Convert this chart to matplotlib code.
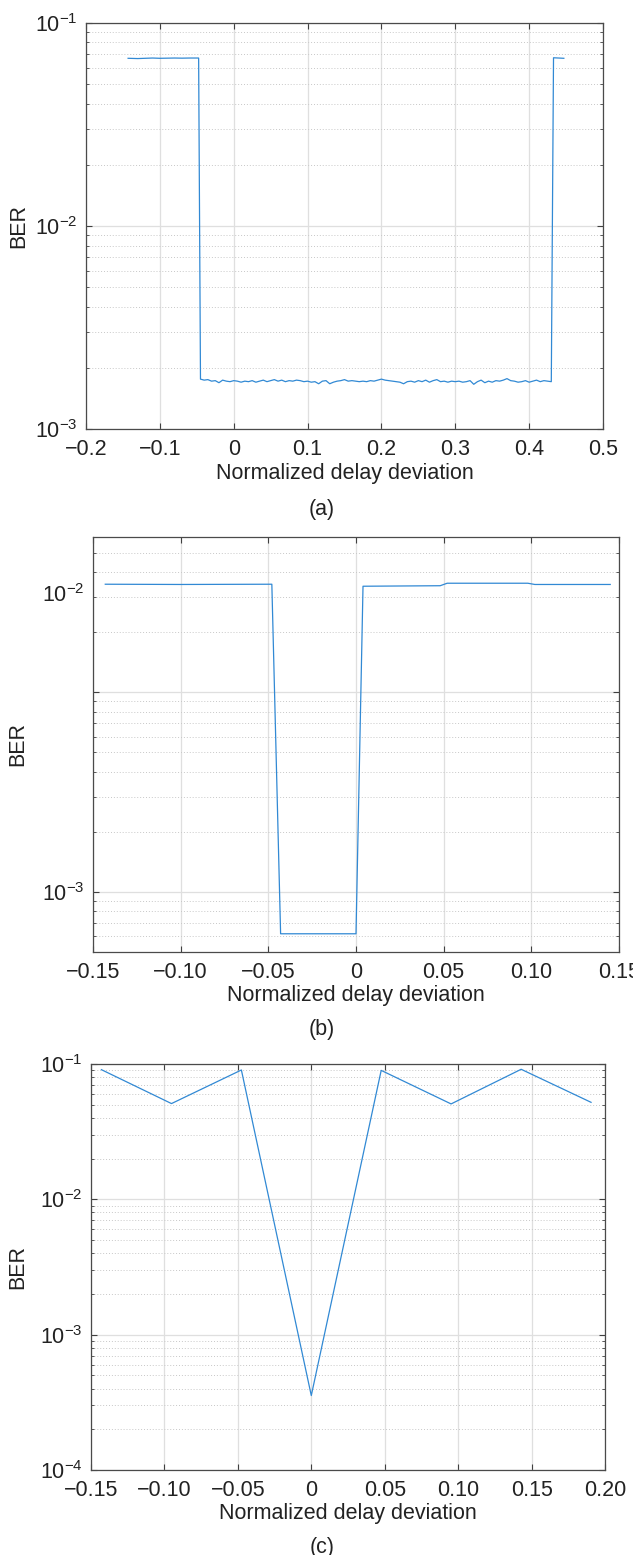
import matplotlib
matplotlib.use("Agg")
import matplotlib.pyplot as plt
import matplotlib.transforms as mtransforms
import numpy as np
from matplotlib.ticker import LogLocator, NullFormatter

plt.rcParams["font.family"] = ["Liberation Sans", "DejaVu Sans"]
plt.rcParams["mathtext.default"] = "regular"
plt.rcParams["axes.unicode_minus"] = True

# ---- panel (a) ----
a_left_x = [-0.143, -0.130, -0.120, -0.110, -0.100, -0.090, -0.080, -0.070, -0.060, -0.0475]
a_left_ber = [0.0668, 0.0666, 0.0668, 0.0670, 0.0668, 0.0669, 0.0670, 0.0669, 0.0670, 0.0670]
a_floor_x = np.round(np.arange(-0.045, 0.4301, 0.005), 3)
a_floor_ber = np.array([
    1.76, 1.74, 1.75, 1.72, 1.73, 1.69, 1.74, 1.72, 1.71, 1.73,
    1.72, 1.70, 1.72, 1.71, 1.73, 1.70, 1.72, 1.74, 1.71, 1.73,
    1.75, 1.72, 1.74, 1.71, 1.73, 1.72, 1.74, 1.73, 1.71, 1.72,
    1.70, 1.71, 1.67, 1.72, 1.73, 1.67, 1.70, 1.72, 1.73, 1.75,
    1.72, 1.73, 1.72, 1.71, 1.72, 1.71, 1.73, 1.72, 1.74, 1.76,
    1.74, 1.73, 1.72, 1.71, 1.70, 1.67, 1.71, 1.72, 1.70, 1.73,
    1.71, 1.74, 1.70, 1.73, 1.75, 1.71, 1.72, 1.70, 1.72, 1.71,
    1.72, 1.70, 1.71, 1.73, 1.66, 1.71, 1.74, 1.69, 1.72, 1.70,
    1.73, 1.72, 1.74, 1.77, 1.73, 1.72, 1.70, 1.71, 1.73, 1.70,
    1.72, 1.74, 1.71, 1.73, 1.72, 1.71,
]) * 1e-3
a_right_x = [0.433, 0.440, 0.447]
a_right_ber = [0.0672, 0.0670, 0.0668]
a_xticks = [-0.2, -0.1, 0, 0.1, 0.2, 0.3, 0.4, 0.5]
a_xlabels = ["\u22120.2", "\u22120.1", "0", "0.1", "0.2", "0.3", "0.4", "0.5"]

# ---- panel (b) ----
b_x = [-0.143, -0.100, -0.048, -0.043, 0.000, 0.004, 0.048, 0.052, 0.098, 0.102, 0.145]
b_ber = [0.0348, 0.0347, 0.0348, 6.17e-4, 6.17e-4, 0.0340, 0.0342, 0.0352, 0.0352, 0.0347, 0.0347]
b_xticks = [-0.15, -0.10, -0.05, 0, 0.05, 0.10, 0.15]
b_xlabels = ["\u22120.15", "\u22120.10", "\u22120.05", "0", "0.05", "0.10", "0.15"]

# ---- panel (c) ----
c_x = [-0.1429, -0.0952, -0.0476, 0.0, 0.0476, 0.0952, 0.1429, 0.1905]
c_ber = [0.0908, 0.0510, 0.0903, 3.55e-4, 0.0897, 0.0507, 0.0914, 0.0521]
c_xticks = [-0.15, -0.10, -0.05, 0, 0.05, 0.10, 0.15, 0.20]
c_xlabels = ["\u22120.15", "\u22120.10", "\u22120.05", "0", "0.05", "0.10", "0.15", "0.20"]

LINE = "#3189d4"
FS = 15.5


def style(ax, xlim, ylim, xticks, xlabels, yticks, ylabels, label_x):
    ax.set_yscale("log")
    ax.set_xlim(*xlim)
    ax.set_ylim(*ylim)
    ax.set_xticks(xticks)
    ax.set_xticklabels(xlabels)
    ax.set_yticks(yticks)
    ax.set_yticklabels(ylabels)
    ax.yaxis.set_minor_locator(LogLocator(base=10, subs=range(2, 10)))
    ax.yaxis.set_minor_formatter(NullFormatter())
    ax.set_axisbelow(True)
    ax.grid(True, which="major", color="#dfdfdf", lw=0.9, ls="-")
    ax.grid(True, which="minor", axis="y", color="#c8c8c8", lw=0.7, ls=(0, (1, 2)))
    ax.tick_params(which="both", direction="in", top=True, right=True,
                   color="#404040", labelsize=FS, labelcolor="#222222")
    ax.tick_params(which="major", length=4, width=0.8)
    ax.tick_params(which="minor", length=2, width=0.6)
    ax.tick_params(axis="x", pad=7)
    ax.tick_params(axis="y", pad=6)
    for s in ax.spines.values():
        s.set_color("#4a4a4a")
        s.set_linewidth(0.9)
    ax.set_xlabel("Normalized delay deviation", fontsize=FS, color="#222222", labelpad=2)
    ax.set_ylabel("BER", fontsize=FS, color="#222222", va="center")
    ax.yaxis.set_label_coords(label_x, 0.5)


W, H = 633, 1555
fig = plt.figure(figsize=(W / 100, H / 100), dpi=100)

ax_a = fig.add_axes([86 / W, 1 - 429 / H, 517 / W, 406.3 / H])
ax_b = fig.add_axes([93 / W, 1 - 952 / H, 526 / W, 415 / H])
ax_c = fig.add_axes([91 / W, 1 - 1470 / H, 514 / W, 406 / H])

xa = np.concatenate([a_left_x, a_floor_x, a_right_x])
ya = np.concatenate([a_left_ber, a_floor_ber, a_right_ber])
ax_a.plot(xa, ya, color=LINE, lw=0.9)
style(ax_a, (-0.2, 0.5), (1e-3, 1e-1), a_xticks, a_xlabels,
      [1e-3, 1e-2, 1e-1], ["$10^{-3}$", "$10^{-2}$", "$10^{-1}$"], -0.131)

ax_b.plot(b_x, b_ber, color=LINE, lw=0.9)
style(ax_b, (-0.15, 0.15), (5.0e-4, 6.0e-2), b_xticks, b_xlabels,
      [1e-3, 1e-2], ["$10^{-3}$", ""], -0.143)
# the printed "10^-2" label in the original sits above its gridline
trans = mtransforms.blended_transform_factory(ax_b.transAxes, ax_b.transData)
ax_b.text(-0.017, 3.05e-2, "$10^{-2}$", transform=trans, ha="right", va="center",
          fontsize=FS, color="#222222")

ax_c.plot(c_x, c_ber, color=LINE, lw=0.9)
style(ax_c, (-0.15, 0.20), (1e-4, 1e-1), c_xticks, c_xlabels,
      [1e-4, 1e-3, 1e-2, 1e-1], ["$10^{-4}$", "$10^{-3}$", "$10^{-2}$", "$10^{-1}$"], -0.142)

fig.text(322 / W, 1 - 510 / H, "(a)", ha="center", va="center", fontsize=FS, color="#222222")
fig.text(322 / W, 1 - 1030 / H, "(b)", ha="center", va="center", fontsize=FS, color="#222222")
fig.text(322 / W, 1 - 1547 / H, "(c)", ha="center", va="center", fontsize=FS, color="#222222")

fig.savefig("out.png", dpi=100)
